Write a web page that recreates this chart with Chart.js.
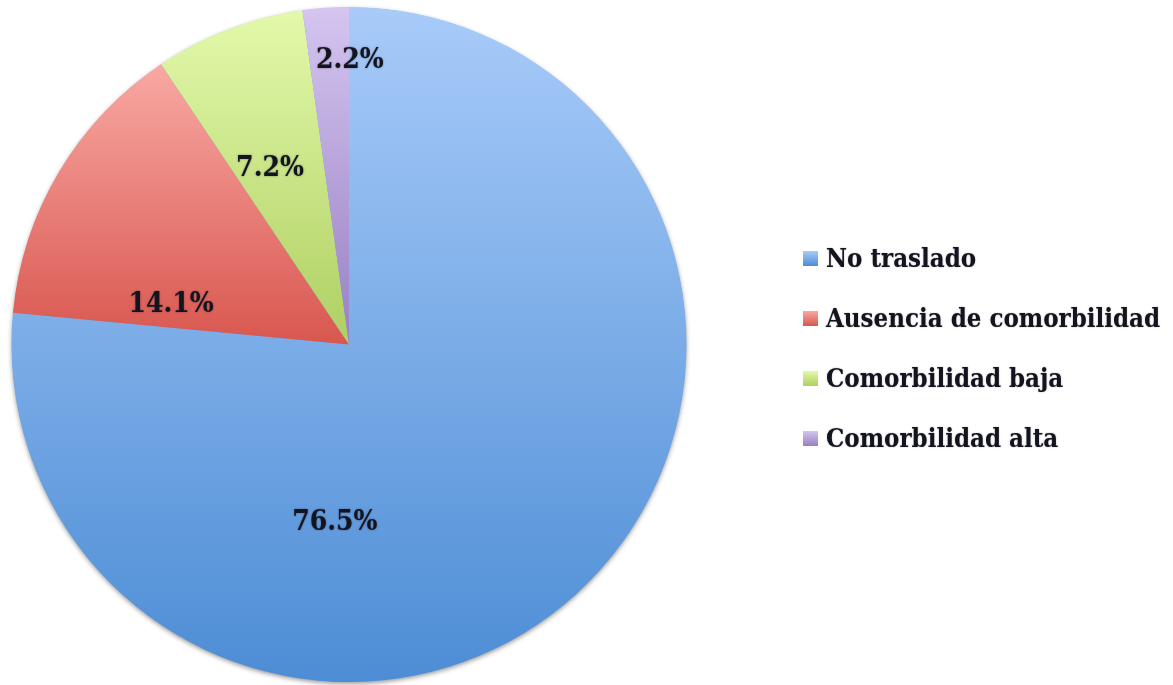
<!DOCTYPE html>
<html>
<head>
<meta charset="utf-8">
<script src="https://cdn.jsdelivr.net/npm/chart.js@4"></script>
<style>
    body { margin: 0; background: #fff; }
    #wrap { position: relative; width: 1173px; height: 685px; }
    #legend { position: absolute; left: 803px; top: 243px; font-family: 'DejaVu Serif Condensed', 'DejaVu Serif', serif; font-stretch: condensed; font-weight: bold; font-size: 25.6px; color: #14141f; }
    #legend .item { height: 60px; display: flex; align-items: flex-start; white-space: nowrap; text-shadow: 0 0 1.5px rgba(40, 40, 60, 0.45); }
    #legend .box { width: 15px; height: 15px; margin: 8px 8px 0 0; }
</style>
</head>
<body>
<div id="wrap">
    <canvas id="pie" width="1173" height="685"></canvas>
    <div id="legend"></div>
</div>
<script>
const labels = ['No traslado', 'Ausencia de comorbilidad', 'Comorbilidad baja', 'Comorbilidad alta'];
const values = [76.5, 14.1, 7.2, 2.2];

// top / bottom colours of each slice's vertical gradient
const topColors = ['#a8cbf9', '#f9a8a3', '#e3f9ab', '#d5c5f0'];
const bottomColors = ['#4d8dd5', '#d8574f', '#afcf62', '#9880c3'];

// label placement inside each slice: fraction along the slice angle, fraction of radius
const labelAngleFrac = [0.67, 0.14, 0.37, 1.02];
const labelRadiusFrac = [0.53, 0.54, 0.57, 0.84];

// vertical gradient spanning the slice's own height
function sliceGradient(context) {
    const chart = context.chart;
    const area = chart.chartArea;
    const i = context.dataIndex;
    if (!area) return topColors[i];
    const cx = (area.left + area.right) / 2;
    const cy = (area.top + area.bottom) / 2;
    const r = Math.min(area.right - area.left, area.bottom - area.top) / 2;
    const total = values.reduce((s, v) => s + v, 0);
    const before = values.slice(0, i).reduce((s, v) => s + v, 0);
    const a0 = -Math.PI / 2 + 2 * Math.PI * before / total;
    const a1 = a0 + 2 * Math.PI * values[i] / total;
    let minY = cy, maxY = cy;
    for (let k = 0; k <= 90; k++) {
        const py = cy + r * Math.sin(a0 + (a1 - a0) * k / 90);
        minY = Math.min(minY, py);
        maxY = Math.max(maxY, py);
    }
    const g = chart.ctx.createLinearGradient(cx, minY, cx, maxY);
    g.addColorStop(0, topColors[i]);
    g.addColorStop(1, bottomColors[i]);
    return g;
}

// soft shadow under the whole pie
const pieShadow = {
    id: 'pieShadow',
    beforeDatasetsDraw(chart) {
        const arc = chart.getDatasetMeta(0).data[0];
        if (!arc) return;
        const ctx = chart.ctx;
        ctx.save();
        ctx.shadowColor = 'rgba(0, 0, 0, 0.45)';
        ctx.shadowBlur = 5;
        ctx.shadowOffsetY = 2;
        ctx.fillStyle = '#6fa0e0';
        ctx.beginPath();
        ctx.arc(arc.x, arc.y, arc.outerRadius - 0.5, 0, Math.PI * 2);
        ctx.fill();
        ctx.restore();
    }
};

// percentage labels
const sliceLabels = {
    id: 'sliceLabels',
    afterDatasetsDraw(chart) {
        const ctx = chart.ctx;
        const meta = chart.getDatasetMeta(0);
        ctx.save();
        ctx.font = 'bold 28px "DejaVu Serif Condensed", "DejaVu Serif", serif';
        ctx.fillStyle = '#14141f';
        ctx.textAlign = 'center';
        ctx.textBaseline = 'middle';
        ctx.shadowColor = 'rgba(30, 30, 50, 0.5)';
        ctx.shadowBlur = 2;
        meta.data.forEach((arc, i) => {
            const a = arc.startAngle + (arc.endAngle - arc.startAngle) * labelAngleFrac[i];
            const r = arc.outerRadius * labelRadiusFrac[i];
            ctx.fillText(values[i].toFixed(1) + '%', arc.x + r * Math.cos(a), arc.y + r * Math.sin(a));
        });
        ctx.restore();
    }
};

new Chart(document.getElementById('pie'), {
    type: 'pie',
    data: {
        labels: labels,
        datasets: [{
            data: values,
            backgroundColor: sliceGradient,
            borderWidth: 0
        }]
    },
    options: {
        responsive: false,
        animation: false,
        layout: { padding: { left: 11, right: 486, top: 7, bottom: 3 } },
        plugins: {
            legend: { display: false },
            tooltip: { enabled: false }
        }
    },
    plugins: [pieShadow, sliceLabels]
});

const legendDiv = document.getElementById('legend');
labels.forEach((label, i) => {
    legendDiv.innerHTML += `<div class="item"><span class="box" style="background: linear-gradient(${topColors[i]}, ${bottomColors[i]})"></span>${label}</div>`;
});
</script>
</body>
</html>
